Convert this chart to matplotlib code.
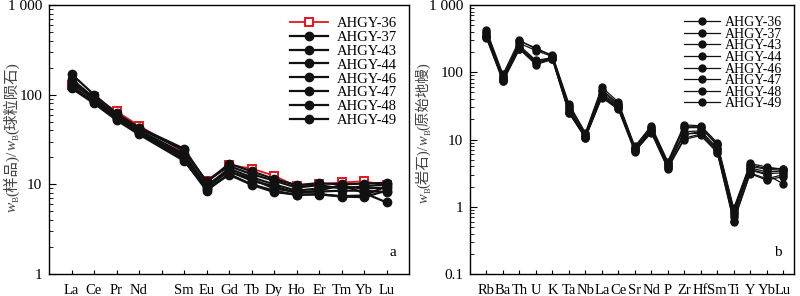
import matplotlib
matplotlib.use("Agg")
import matplotlib.pyplot as plt
from matplotlib.ticker import LogLocator, FuncFormatter, NullFormatter
from matplotlib.transforms import IdentityTransform
import numpy as np

plt.rcParams['font.family'] = ['Liberation Serif', 'Noto Sans CJK SC']

samples = ['AHGY-36', 'AHGY-37', 'AHGY-43', 'AHGY-44', 'AHGY-46', 'AHGY-47', 'AHGY-48', 'AHGY-49']

# Panel a: chondrite-normalised REE (Pm slot left empty)
ree_labels = ['La', 'Ce', 'Pr', 'Nd', '', 'Sm', 'Eu', 'Gd', 'Tb', 'Dy', 'Ho', 'Er', 'Tm', 'Yb', 'Lu']
ree_36 = [128, 95, 65, 45, 23, 11.0, 16.5, 15.0, 12.5, 9.5, 10.0, 10.5, 10.8, 9.8]
ree_37 = [170, 100, 62, 43, 25, 10.5, 17.0, 14.0, 11.5, 9.8, 10.3, 10.0, 10.2, 10.4]
ree_43 = [150, 92, 58, 40, 22, 9.5, 15.0, 12.0, 10.0, 8.5, 9.0, 9.5, 9.0, 9.2]
ree_44 = [140, 88, 56, 39, 21, 9.8, 14.0, 11.0, 9.5, 8.0, 8.5, 9.8, 8.0, 6.3]
ree_46 = [125, 84, 54, 37, 19, 8.5, 13.0, 10.0, 8.5, 7.6, 7.8, 7.3, 7.2, 8.5]
ree_47 = [118, 80, 52, 36, 18.3, 8.8, 12.8, 9.9, 8.2, 7.7, 7.7, 7.4, 7.5, 9.5]
ree_48 = [135, 90, 60, 42, 24, 10.8, 16.0, 13.0, 11.0, 9.2, 9.8, 9.0, 9.5, 10.0]
ree_49 = [122, 82, 55, 38, 20, 9.2, 14.0, 11.5, 9.0, 8.2, 8.3, 8.5, 8.5, 8.2]

# Panel b: primitive-mantle-normalised trace elements
tr_labels = ['Rb', 'Ba', 'Th', 'U', 'K', 'Ta', 'Nb', 'La', 'Ce', 'Sr', 'Nd', 'P', 'Zr', 'Hf', 'Sm', 'Ti', 'Y', 'Yb', 'Lu']
tr_36 = [380, 80, 290, 230, 175, 32, 12.0, 55, 34, 7.5, 15.0, 4.5, 15.5, 15.5, 8.5, 0.90, 4.2, 3.7, 3.7]
tr_37 = [420, 93, 300, 220, 180, 34, 12.6, 60, 36, 7.9, 16.0, 4.7, 16.5, 16.0, 9.0, 0.95, 4.4, 3.9, 3.6]
tr_43 = [350, 85, 250, 150, 165, 28, 11.0, 48, 32, 7.2, 14.0, 4.2, 13.0, 13.5, 7.5, 0.80, 3.8, 3.3, 3.4]
tr_44 = [330, 78, 230, 140, 160, 26, 10.8, 44, 30, 7.0, 13.5, 4.0, 12.0, 12.5, 7.0, 0.75, 3.5, 3.0, 2.2]
tr_46 = [320, 73, 220, 130, 155, 25, 10.5, 42, 28, 6.6, 12.6, 3.7, 10.0, 11.5, 6.4, 0.60, 3.1, 2.5, 2.8]
tr_47 = [340, 75, 225, 135, 158, 25, 10.7, 43, 29, 6.8, 13.0, 3.8, 10.5, 12.0, 6.6, 0.62, 3.2, 2.6, 3.0]
tr_48 = [400, 88, 270, 210, 172, 30, 11.5, 52, 33, 7.6, 15.0, 4.4, 15.0, 15.0, 8.2, 0.85, 4.0, 3.6, 3.5]
tr_49 = [360, 82, 240, 145, 162, 27, 11.0, 46, 31, 7.1, 13.8, 4.1, 12.0, 13.0, 7.2, 0.70, 3.6, 3.1, 3.2]

ree_data = [ree_36, ree_37, ree_43, ree_44, ree_46, ree_47, ree_48, ree_49]
tr_data = [tr_36, tr_37, tr_43, tr_44, tr_46, tr_47, tr_48, tr_49]

ylabel_a = [('w', 'italic', 1.0, 0.0), ('B', 'normal', 0.6, 0.22), ('(样品)/', 'normal', 1.0, 0.0),
            ('w', 'italic', 1.0, 0.0), ('B', 'normal', 0.6, 0.22), ('(球粒陨石)', 'normal', 1.0, 0.0)]
ylabel_b = [('w', 'italic', 1.0, 0.0), ('B', 'normal', 0.6, 0.22), ('(岩石)/', 'normal', 1.0, 0.0),
            ('w', 'italic', 1.0, 0.0), ('B', 'normal', 0.6, 0.22), ('(原始地幔)', 'normal', 1.0, 0.0)]

fig = plt.figure(figsize=(8.0, 2.96), dpi=100)
axa = fig.add_axes([0.06125, 0.0743, 0.45, 0.9088])
axb = fig.add_axes([0.5875, 0.0743, 0.405, 0.9088])

def fmt(v, pos):
    if v >= 1000:
        return '1 000'
    if v >= 1:
        return '%d' % v
    return '%g' % v

ree_x = [i for i, l in enumerate(ree_labels) if l]
order = list(range(1, 8)) + [0]
for k in order:
    vals = ree_data[k]
    if k == 0:
        axa.plot(ree_x, vals, color='#e8141b', lw=1.3, marker='s', ms=6,
                 mfc='white', mec='#e8141b', mew=1.4, label=samples[k], zorder=3)
    else:
        axa.plot(ree_x, vals, color='#111111', lw=1.6, marker='o', ms=6,
                 mfc='#111111', mec='#111111', label=samples[k], zorder=4)

tr_x = list(range(len(tr_labels)))
for k in range(8):
    axb.plot(tr_x, tr_data[k], color='#111111', lw=0.9, marker='o', ms=5,
             mfc='#111111', mec='#111111', label=samples[k])

for ax, lo, xt, xl, xlim in [(axa, 1, range(len(ree_labels)), ree_labels, (-1, 15)),
                              (axb, 0.1, tr_x, tr_labels, (-1, 18.66))]:
    ax.set_yscale('log')
    ax.set_ylim(lo, 1000)
    ax.set_xlim(*xlim)
    ax.set_xticks(list(xt))
    ax.set_xticklabels(xl, fontsize=10.5)
    ax.yaxis.set_major_formatter(FuncFormatter(fmt))
    ax.yaxis.set_minor_formatter(NullFormatter())
    ax.yaxis.set_minor_locator(LogLocator(base=10, subs=np.arange(2, 10)))
    ax.tick_params(axis='y', which='major', direction='in', length=5, width=0.8, labelsize=11, pad=5)
    ax.tick_params(axis='y', which='minor', direction='in', length=3, width=0.6)
    ax.tick_params(axis='x', which='major', direction='in', length=3, width=0.8, pad=7)
    for s in ax.spines.values():
        s.set_linewidth(1.0)

h, l = axa.get_legend_handles_labels()
idx = [l.index(s) for s in samples]
axa.legend([h[i] for i in idx], [l[i] for i in idx], loc='upper right',
           bbox_to_anchor=(0.995, 0.995), frameon=False, fontsize=10.5,
           labelspacing=0.05, handlelength=2.6, handletextpad=0.6, borderaxespad=0.3)
axb.legend(loc='upper right', bbox_to_anchor=(0.995, 0.995), frameon=False, fontsize=10,
           labelspacing=-0.1, handlelength=2.6, handletextpad=0.4, borderaxespad=0.3)

axa.text(0.955, 0.08, 'a', transform=axa.transAxes, fontsize=11, ha='center', va='center')
axb.text(0.95, 0.08, 'b', transform=axb.transAxes, fontsize=11, ha='center', va='center')

H = fig.get_figheight() * fig.dpi
renderer = fig.canvas.get_renderer()

def vlabel(pieces, xc, ytop, ybot, color='#444444'):
    # ytop, ybot: pixel rows from the top of the image
    def build(fs, y0, xb, draw):
        y = y0
        arts = []
        for txt, style, sc, sh in pieces:
            t = fig.text(xb + sh * fs * 100 / 72, y, txt, rotation=90, rotation_mode='anchor',
                         ha='left', va='baseline', fontsize=fs * sc, style=style,
                         color=color, transform=IdentityTransform())
            ext = t.get_window_extent(renderer)
            y += ext.height
            arts.append(t)
        if not draw:
            for t in arts:
                t.remove()
        return y - y0
    target = ybot - ytop
    L = build(10, 0, 0, False)
    fs = 10 * target / L
    xb = xc + 0.38 * fs * 100 / 72
    build(fs, H - ybot, xb, True)

vlabel(ylabel_a, 10, 62, 212)
vlabel(ylabel_b, 422, 62, 203)

fig.savefig('out.png', dpi=100)
